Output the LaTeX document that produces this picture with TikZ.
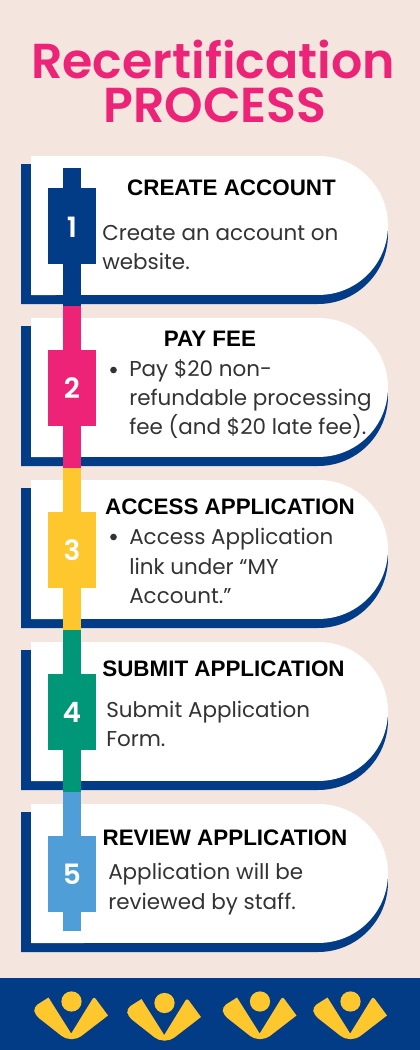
\documentclass[tikz,border=0pt]{standalone}
\usepackage{fontspec}
\setmainfont{Poppins}
\newfontfamily\headfont{Liberation Sans}
\newfontfamily\medfont{Poppins SemiBold}
\definecolor{bg}{HTML}{F4E6DE}
\definecolor{navy}{HTML}{023B86}
\definecolor{pinkc}{HTML}{EC2377}
\definecolor{yel}{HTML}{FFC72E}
\definecolor{grn}{HTML}{009678}
\definecolor{sky}{HTML}{4F9ED8}
\definecolor{txt}{HTML}{333333}
\tikzset{
 x=0.75pt,y=-0.75pt,
 title/.style={text=pinkc,font=\medfont\fontsize{36.8}{36}\selectfont,inner sep=0,anchor=center},
 head/.style={text=black,font=\headfont\fontsize{16.8}{17}\selectfont\bfseries,inner sep=0,anchor=center},
 body/.style={text=txt,font=\fontsize{16.1}{22}\selectfont,inner sep=0,anchor=west,align=left},
 num/.style={text=white,font=\medfont\fontsize{21}{21}\selectfont,inner sep=0,anchor=center},
 dot/.style={fill=txt,circle,inner sep=0,minimum size=5pt},
}
\newcommand{\cardshape}[1]{%
 \fill[navy] (21,#1+8) -- (318,#1+8) arc[start angle=90,end angle=-90,radius=52.5pt] -- (21,#1+148) -- cycle;
 \fill[white] (31,#1) -- (318.5,#1) arc[start angle=90,end angle=-90,radius=52.1pt] -- (31,#1+139) -- cycle;
}
\newcommand{\logo}[2]{%
 \begin{scope}[shift={(#1,#2)}]
 \fill[yel] (0,-10) circle[radius=7.6pt];
 \fill[yel] (-23,-14) [rounded corners=3.5pt] -- (-38,-4.5) -- (-36.5,3.5) -- (-6,27.5) -- (6,27.5) [sharp corners] -- (36.5,4) [rounded corners=2pt] -- (22.5,-15) [sharp corners] -- (-0.3,22) -- cycle;
 \end{scope}}
\begin{document}
\begin{tikzpicture}
\useasboundingbox (0,0) rectangle (420,1050);
\fill[bg] (0,0) rectangle (420,1050);
\node[title] (t1) at (213,59) {Recertification};
\node[title] (t2) at (215,105) {PROCESS};
\cardshape{156}
\cardshape{318}
\cardshape{480}
\cardshape{642}
\cardshape{804}
% spine
\fill[navy] (63,168) rectangle (81,306);
\fill[pinkc] (63,306) rectangle (81,468);
\fill[yel] (63,468) rectangle (81,630);
\fill[grn] (63,630) rectangle (81,792);
\fill[sky] (63,792) rectangle (81,931);
\fill[navy] (48,188) rectangle (96,264);
\fill[pinkc] (48,350) rectangle (96,426);
\fill[yel] (48,512) rectangle (96,588);
\fill[grn] (48,674) rectangle (96,750);
\fill[sky] (48,836) rectangle (96,912);
\node[num] (n1) at (72,227) {1};
\node[num] (n2) at (72,388) {2};
\node[num] (n3) at (72,550) {3};
\node[num] (n4) at (72,712) {4};
\node[num] (n5) at (72,874) {5};
\node[head] (h1) at (231.5,188) {CREATE ACCOUNT};
\node[head] (h2) at (210,339) {PAY FEE};
\node[head] (h3) at (230,507) {ACCESS APPLICATION};
\node[head] (h4) at (223.5,669) {SUBMIT APPLICATION};
\node[head] (h5) at (225,838) {REVIEW APPLICATION};
\node[body] (b1) at (102,247.5) {Create an account on\\website.};
\node[dot] (d2) at (113.5,370) {};
\node[body] (b2) at (129,399) {Pay \$20 non-\\refundable processing\\fee (and \$20 late fee).};
\node[dot] (d3) at (113.5,537) {};
\node[body] (b3) at (129,566) {Access Application\\link under “MY\\Account.”};
\node[body] (b4) at (106,724) {Submit Application\\Form.};
\node[body] (b5) at (108,889) {Application will be\\reviewed by staff.};
\fill[navy] (0,978) rectangle (420,1050);
\logo{71.5}{1011.5}
\logo{164.5}{1013}
\logo{260}{1011.5}
\logo{350.5}{1011.5}
\end{tikzpicture}
\end{document}
